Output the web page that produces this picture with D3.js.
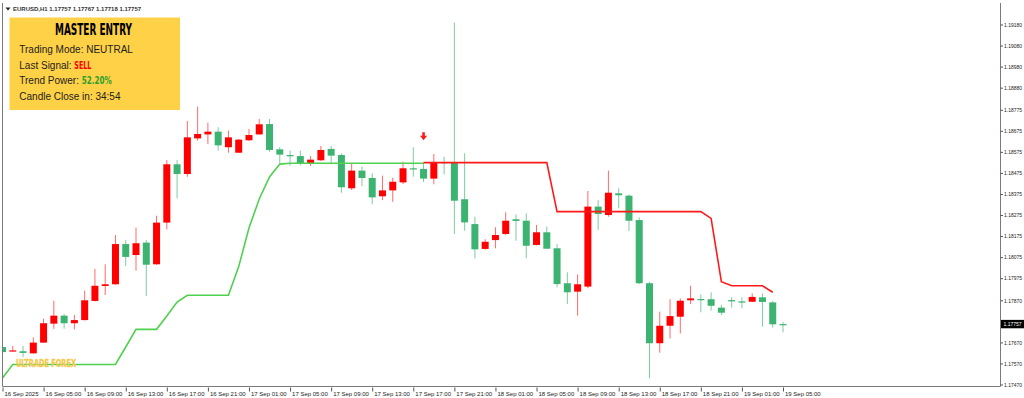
<!DOCTYPE html>
<html>
<head>
<meta charset="utf-8">
<script src="https://cdn.jsdelivr.net/npm/d3@7"></script>
<style>
  html, body { margin: 0; padding: 0; background: #fff; }
  svg { display: block; }
</style>
</head>
<body>
<svg id="chart" width="1024" height="398"></svg>
<script>
// EURUSD H1, one bar per hour starting 16 Sep 01:00
const opens = [
  1.17648,1.17627,1.17628,1.17618,1.17669,1.17759,1.17797,1.17761,1.17776,1.17867,
  1.17938,1.17946,1.18137,1.18085,1.18144,1.18041,1.18239,1.18516,1.18470,1.18639,
  1.18658,1.18671,1.18597,1.18571,1.18630,1.18658,1.18707,1.18587,1.18560,1.18555,
  1.18522,1.18535,1.18589,1.18560,1.18402,1.18486,1.18451,1.18364,1.18392,1.18430,
  1.18497,1.18494,1.18448,1.18527,1.18525,1.18350,1.18232,1.18114,1.18156,1.18185,
  1.18255,1.18248,1.18133,1.18193,1.18117,1.17951,1.17911,1.17935,1.18315,1.18275,
  1.18378,1.18367,1.18251,1.17951,1.17666,1.17749,1.17792,1.17870,1.17876,1.17875,
  1.17835,1.17871,1.17865,1.17863,1.17884,1.17860,1.17757];
const highs = [
  1.17653,1.17653,1.17653,1.17694,1.17783,1.17868,1.17805,1.17800,1.17916,1.18019,
  1.18041,1.18180,1.18156,1.18215,1.18156,1.18272,1.18536,1.18536,1.18722,1.18790,
  1.18714,1.18692,1.18676,1.18636,1.18684,1.18731,1.18731,1.18598,1.18581,1.18581,
  1.18555,1.18603,1.18603,1.18568,1.18521,1.18505,1.18473,1.18462,1.18452,1.18528,
  1.18597,1.18525,1.18565,1.18552,1.19189,1.18568,1.18267,1.18160,1.18217,1.18288,
  1.18278,1.18283,1.18228,1.18220,1.18137,1.18003,1.17993,1.18389,1.18346,1.18486,
  1.18402,1.18373,1.18264,1.17958,1.17816,1.17875,1.17879,1.17939,1.17898,1.17908,
  1.17848,1.17884,1.17884,1.17903,1.17903,1.17867,1.17767];
const lows = [
  1.17620,1.17627,1.17601,1.17617,1.17667,1.17734,1.17735,1.17732,1.17774,1.17864,
  1.17895,1.17944,1.18033,1.18011,1.17890,1.18038,1.18207,1.18354,1.18457,1.18628,
  1.18612,1.18581,1.18571,1.18570,1.18627,1.18657,1.18576,1.18521,1.18509,1.18511,
  1.18508,1.18532,1.18516,1.18381,1.18394,1.18413,1.18326,1.18346,1.18338,1.18422,
  1.18457,1.18432,1.18421,1.18468,1.18185,1.18201,1.18069,1.18111,1.18117,1.18180,
  1.18153,1.18069,1.18131,1.18114,1.17932,1.17852,1.17797,1.17927,1.18204,1.18267,
  1.18307,1.18199,1.17947,1.17499,1.17621,1.17689,1.17713,1.17852,1.17813,1.17821,
  1.17799,1.17835,1.17832,1.17862,1.17745,1.17740,1.17718];
const closes = [
  1.17624,1.17632,1.17620,1.17669,1.17761,1.17797,1.17761,1.17776,1.17870,1.17939,
  1.17946,1.18137,1.18076,1.18141,1.18039,1.18239,1.18516,1.18470,1.18644,1.18660,
  1.18671,1.18606,1.18644,1.18633,1.18655,1.18706,1.18584,1.18562,1.18554,1.18521,
  1.18538,1.18584,1.18557,1.18407,1.18486,1.18451,1.18359,1.18392,1.18433,1.18497,
  1.18492,1.18448,1.18527,1.18522,1.18343,1.18240,1.18112,1.18148,1.18180,1.18248,
  1.18247,1.18129,1.18193,1.18115,1.17947,1.17908,1.17946,1.18315,1.18280,1.18381,
  1.18369,1.18248,1.17951,1.17666,1.17749,1.17795,1.17868,1.17879,1.17873,1.17844,
  1.17811,1.17865,1.17859,1.17886,1.17862,1.17756,1.17757];

// trend line: up part from bar 0, down part from bar 41
const upStart = 0;
const upTrend = [
  1.17501,1.17565,1.17565,1.17565,1.17565,1.17565,1.17565,1.17565,1.17565,1.17565,
  1.17565,1.17565,1.17648,1.17732,1.17732,1.17732,1.17795,1.17862,1.17894,1.17894,
  1.17894,1.17894,1.17894,1.18030,1.18213,1.18351,1.18456,1.18517,1.18521,1.18521,
  1.18521,1.18521,1.18521,1.18521,1.18521,1.18521,1.18521,1.18521,1.18521,1.18521,
  1.18521,1.18521];
const downStart = 41;
const downTrend = [
  1.18524,1.18524,1.18524,1.18524,1.18524,1.18524,1.18524,1.18524,1.18524,1.18524,
  1.18524,1.18524,1.18524,1.18291,1.18291,1.18291,1.18291,1.18291,1.18291,1.18291,
  1.18291,1.18291,1.18291,1.18291,1.18291,1.18291,1.18291,1.18291,1.18259,1.17958,
  1.17939,1.17939,1.17939,1.17939,1.17908];

const signalBar = 41;
const signalPrice = 1.18630;

const yTicks = [1.19180,1.19080,1.18980,1.18880,1.18775,1.18675,1.18575,1.18475,1.18375,
  1.18275,1.18175,1.18075,1.17975,1.17870,1.17670,1.17570,1.17470];
const xLabels = ["16 Sep 2025","16 Sep 05:00","16 Sep 09:00","16 Sep 13:00","16 Sep 17:00",
  "16 Sep 21:00","17 Sep 01:00","17 Sep 05:00","17 Sep 09:00","17 Sep 13:00","17 Sep 17:00",
  "17 Sep 21:00","18 Sep 01:00","18 Sep 05:00","18 Sep 09:00","18 Sep 13:00","18 Sep 17:00",
  "18 Sep 21:00","19 Sep 01:00","19 Sep 05:00"];

const symbol = "EURUSD,H1";
const lastPrice = 1.17757;

const panelTitle = "MASTER ENTRY";
const panelRows = [
  ["Trading Mode: ", "NEUTRAL"],
  ["Last Signal: ", "SELL"],
  ["Trend Power: ", "52.20%"],
  ["Candle Close in: ", "34:54"]
];

const fmt = d3.format(".5f");
const axisFont = "'Liberation Sans', Arial, sans-serif";
const bull = "#ff0000", bear = "#3cb371";

const svg = d3.select("#chart");
svg.append("rect").attr("width", 1024).attr("height", 398).attr("fill", "#fff");

const x = d3.scaleLinear().domain([0, 76]).range([2.5, 783]);
const y = d3.scaleLinear().domain([1.17470, 1.19180]).range([384.5, 24.5]);

svg.append("defs").append("clipPath").attr("id", "plot")
  .append("rect").attr("x", 2.5).attr("y", 3).attr("width", 998).attr("height", 383);

const plot = svg.append("g").attr("clip-path", "url(#plot)");

// candles
const idx = d3.range(opens.length);
const candles = plot.selectAll("g.candle").data(idx).enter().append("g").attr("class", "candle");
candles.append("line")
  .attr("x1", i => x(i)).attr("x2", i => x(i))
  .attr("y1", i => y(highs[i])).attr("y2", i => y(lows[i]))
  .attr("stroke", i => closes[i] > opens[i] ? "#ff6a6a" : "#7ccc9e")
  .attr("stroke-width", 1);
candles.append("rect")
  .attr("x", i => x(i) - 3.5).attr("width", 7)
  .attr("y", i => y(Math.max(opens[i], closes[i])))
  .attr("height", i => Math.max(1.2, Math.abs(y(opens[i]) - y(closes[i]))))
  .attr("fill", i => closes[i] > opens[i] ? bull : bear);

// trend lines
const upLine = d3.line().x((d, i) => x(upStart + i)).y(d => y(d));
const downLine = d3.line().x((d, i) => x(downStart + i)).y(d => y(d));
plot.append("path").datum(upTrend).attr("d", upLine)
  .attr("fill", "none").attr("stroke", "#4fd14f").attr("stroke-width", 1.6);
plot.append("path").datum(downTrend).attr("d", downLine)
  .attr("fill", "none").attr("stroke", "#ff1a1a").attr("stroke-width", 1.6);

// sell arrow
const ax = x(signalBar), ay = y(signalPrice);
plot.append("path")
  .attr("d", `M${ax - 1.3},${ay - 8} L${ax + 1.3},${ay - 8} L${ax + 1.3},${ay - 4.5} L${ax + 3.6},${ay - 4.5} L${ax},${ay} L${ax - 3.6},${ay - 4.5} L${ax - 1.3},${ay - 4.5} Z`)
  .attr("fill", "#ff1a1a");

// watermark
plot.append("text").attr("x", 46).attr("y", 366.5)
  .attr("text-anchor", "middle")
  .attr("font-family", "'DejaVu Sans Condensed', 'DejaVu Sans', sans-serif")
  .attr("font-weight", "bold").attr("font-size", 10.5)
  .attr("textLength", 60).attr("lengthAdjust", "spacingAndGlyphs")
  .attr("fill", "#f4c13a")
  .attr("stroke", "#f8d878").attr("stroke-width", 0.4)
  .text("ULTRADE FOREX");

// frame
svg.append("path")
  .attr("d", "M2.5,3 V386.5 H1000.5 V3")
  .attr("fill", "none").attr("stroke", "#7a7a7a").attr("stroke-width", 1);

// y axis
const yAxis = svg.append("g").attr("transform", "translate(1000.5,0)")
  .call(d3.axisRight(y).tickValues(yTicks).tickSize(2.5).tickPadding(1).tickFormat(fmt));
yAxis.select(".domain").remove();
yAxis.selectAll("line").attr("stroke", "#555");
yAxis.selectAll("text").attr("font-family", axisFont).attr("font-size", 5.6).attr("fill", "#222")
  .attr("textLength", 18).attr("lengthAdjust", "spacingAndGlyphs");

// x axis
const xAxis = svg.append("g").attr("transform", "translate(0,387.5)")
  .call(d3.axisBottom(x).tickValues(d3.range(0, 77, 4)).tickSize(4)
    .tickFormat((d, i) => xLabels[i]));
xAxis.select(".domain").remove();
xAxis.selectAll("line").attr("stroke", "#555");
xAxis.selectAll("text")
  .attr("text-anchor", "start").attr("x", 1.5).attr("y", 8.7).attr("dy", 0)
  .attr("font-family", axisFont).attr("font-size", 6).attr("fill", "#222");

// last price tag
const py = y(lastPrice);
svg.append("rect").attr("x", 1001).attr("y", py - 4.2).attr("width", 23).attr("height", 8.4).attr("fill", "#000");
svg.append("text").attr("x", 1003.5).attr("y", py + 2.1)
  .attr("font-family", axisFont).attr("font-size", 5.6).attr("fill", "#fff")
  .attr("textLength", 18).attr("lengthAdjust", "spacingAndGlyphs")
  .text(fmt(lastPrice));

// header line
svg.append("path").attr("d", "M5.5,7.5 L10.5,7.5 L8,10.5 Z").attr("fill", "#222");
svg.append("text").attr("x", 13).attr("y", 11.2)
  .attr("font-family", axisFont).attr("font-size", 6).attr("font-weight", "bold").attr("fill", "#333")
  .text(symbol + "  " + [opens[76], highs[76], lows[76], closes[76]].map(fmt).join(" "));

// info panel
const panel = svg.append("g");
panel.append("rect").attr("x", 9.5).attr("y", 17.5).attr("width", 170.5).attr("height", 92.5).attr("fill", "#ffd146");
panel.append("text").attr("x", 93.5).attr("y", 35)
  .attr("text-anchor", "middle")
  .attr("font-family", "'DejaVu Sans Condensed', 'DejaVu Sans', sans-serif")
  .attr("font-weight", "bold").attr("font-size", 15)
  .attr("textLength", 77).attr("lengthAdjust", "spacingAndGlyphs")
  .attr("fill", "#000").text(panelTitle);

const valueStyle = [
  {bold: false, color: "#222", len: null},
  {bold: true, color: "#ff0000", len: 17},
  {bold: true, color: "#2f9e2f", len: 30},
  {bold: false, color: "#222", len: null}
];
panelRows.forEach((r, k) => {
  const t = panel.append("text").attr("x", 19.3).attr("y", 52.8 + k * 15.8)
    .attr("font-family", axisFont).attr("font-size", 10).attr("fill", "#222");
  t.append("tspan").text(r[0]);
  const v = t.append("tspan").text(r[1]).attr("fill", valueStyle[k].color);
  if (valueStyle[k].bold) {
    v.attr("font-family", "'DejaVu Sans Condensed', 'DejaVu Sans', sans-serif")
      .attr("font-weight", "bold").attr("font-size", 10.5)
      .attr("textLength", valueStyle[k].len).attr("lengthAdjust", "spacingAndGlyphs");
  }
});
</script>
</body>
</html>
